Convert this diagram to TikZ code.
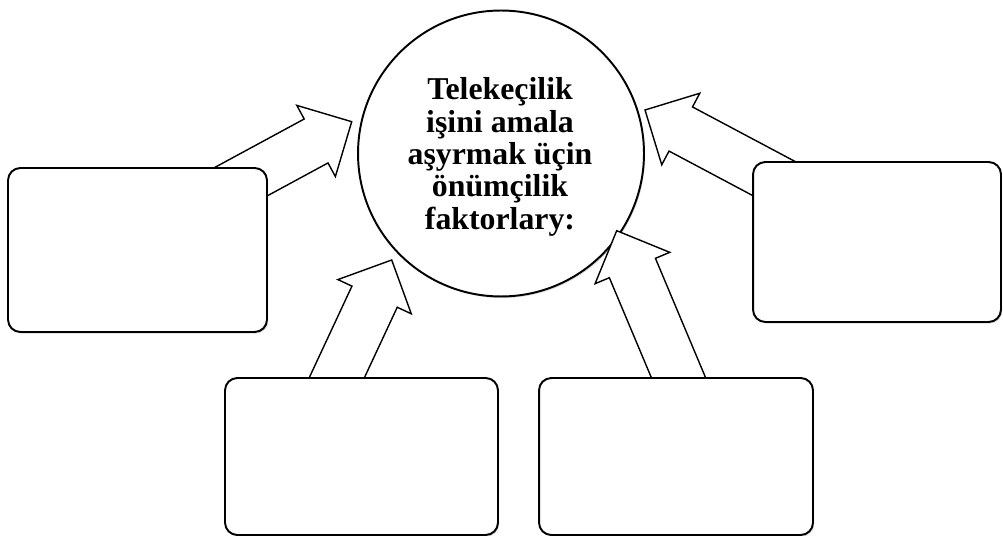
\documentclass[tikz,border=0pt]{standalone}
\usepackage{fontspec}
\setmainfont{Liberation Serif}
\usetikzlibrary{calc,shadows}

\tikzset{
	hub/.style = {circle, draw, line width=1.1pt, fill=white, inner sep=0pt, minimum size=5.72cm,
		drop shadow={shadow xshift=0.7pt, shadow yshift=-0.9pt, opacity=0.3}},
	hubtext/.style = {align=center, inner sep=0pt, font=\bfseries\fontsize{18.1}{18.4}\selectfont},
	factorbox/.style = {draw, line width=1.1pt, fill=white, rounded corners=7pt, inner sep=0pt,
		drop shadow={shadow xshift=0.7pt, shadow yshift=-0.9pt, opacity=0.3}},
	fatarrow/.style = {draw, line width=0.8pt, fill=white, line join=miter}
}

% block arrow from #1 (tail) to #2 (tip)
\newcommand{\blockarrow}[2]{%
	\coordinate (hb) at ($(#2)!0.81cm!(#1)$);
	\draw[fatarrow] ($(#1)!0.5cm!90:(#2)$) -- ($(hb)!0.5cm!90:(#2)$) -- ($(hb)!0.81cm!90:(#2)$) -- (#2)
		-- ($(hb)!0.81cm!-90:(#2)$) -- ($(hb)!0.5cm!-90:(#2)$) -- ($(#1)!0.5cm!-90:(#2)$) -- cycle;
}

\begin{document}
\begin{tikzpicture}[x=0.02cm, y=-0.02cm]
	\useasboundingbox (0,0) rectangle (1003,536);

	\node[hub] (goal) at (501,153.5) {};
	\node[hubtext] (goaltext) at (500,157) {Telekeçilik\\işini amala\\aşyrmak üçin\\önümçilik\\faktorlary:};

	\coordinate (leftfoot) at (201.6,203);	\coordinate (lefttip) at (351.7,121.7);
	\coordinate (lowleftfoot) at (319.6,414.6);	\coordinate (lowlefttip) at (391.7,260);
	\coordinate (lowrightfoot) at (690.3,405.8);	\coordinate (lowrighttip) at (616.7,230.7);
	\coordinate (rightfoot) at (796.4,190.5);	\coordinate (righttip) at (645,110);

	\blockarrow{leftfoot}{lefttip}
	\blockarrow{lowleftfoot}{lowlefttip}
	\blockarrow{lowrightfoot}{lowrighttip}
	\blockarrow{rightfoot}{righttip}

	\node[factorbox, minimum width=5.18cm, minimum height=3.28cm] (left) at (137.5,250) {};
	\node[factorbox, minimum width=4.96cm, minimum height=3.20cm] (right) at (877,242) {};
	\node[factorbox, minimum width=5.46cm, minimum height=3.14cm] (lowleft) at (361.5,456.5) {};
	\node[factorbox, minimum width=5.48cm, minimum height=3.14cm] (lowright) at (676,456.5) {};
\end{tikzpicture}
\end{document}
